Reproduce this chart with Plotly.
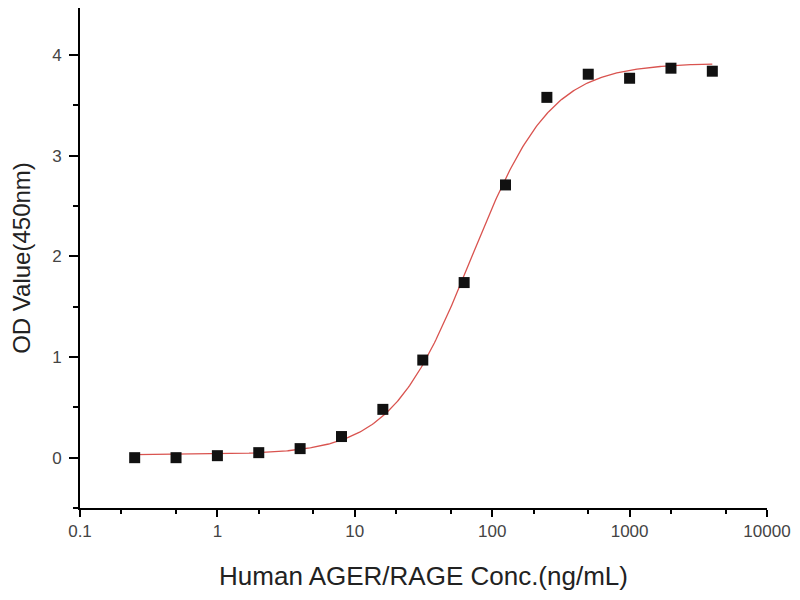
import numpy as np
import plotly.graph_objects as go

conc = [0.25, 0.5, 1, 2, 4, 8, 16, 31.25, 62.5, 125, 250, 500, 1000, 2000, 4000]
od = [0.0, 0.0, 0.02, 0.05, 0.09, 0.21, 0.48, 0.97, 1.74, 2.71, 3.58, 3.81, 3.77, 3.87, 3.84]
x_tick_vals = [0.1, 1, 10, 100, 1000, 10000]
x_tick_text = ["0.1", "1", "10", "100", "1000", "10000"]
y_tick_vals = [0, 1, 2, 3, 4]

# 4-parameter logistic fit parameters (estimated)
fit_bottom = 0.03
fit_top = 3.92
fit_ec50 = 70.0
fit_hill = 1.5

xf = np.logspace(np.log10(0.25), np.log10(4000), 400)
yf = fit_bottom + (fit_top - fit_bottom) * (xf / fit_ec50) ** fit_hill / (1 + (xf / fit_ec50) ** fit_hill)

fig = go.Figure()
fig.add_trace(go.Scatter(x=xf, y=yf, mode="lines", line=dict(color="#d9534f", width=1.3), showlegend=False))
fig.add_trace(go.Scatter(x=conc, y=od, mode="markers",
                         marker=dict(symbol="square", size=11, color="#111111"), showlegend=False))

fig.update_layout(
    width=800, height=600,
    margin=dict(l=72, r=41, t=0, b=100),
    plot_bgcolor="white", paper_bgcolor="white",
    font=dict(family="Liberation Sans, Arial, sans-serif", color="#333333"),
)
fig.update_xaxes(
    type="log", range=[-1, 4], automargin=False,
    tickvals=x_tick_vals, ticktext=x_tick_text,
    ticks="outside", ticklen=7, tickwidth=2, tickcolor="black",
    minor=dict(ticks="outside", ticklen=4, tickwidth=1.5, tickcolor="black", showgrid=False),
    showline=True, linecolor="black", linewidth=2, showgrid=False, zeroline=False,
    tickfont=dict(size=17, color="#444444"),
    title=dict(text="Human AGER/RAGE Conc.(ng/mL)", font=dict(size=26, color="#222222"), standoff=26),
)
fig.update_yaxes(
    range=[-0.5, 4.468], automargin=False,
    tickvals=y_tick_vals,
    ticks="outside", ticklen=9, tickwidth=2, tickcolor="black",
    minor=dict(ticks="outside", ticklen=5, tickwidth=1.5, tickcolor="black", dtick=0.5, showgrid=False),
    showline=True, linecolor="black", linewidth=2, showgrid=False, zeroline=False,
    tickfont=dict(size=17, color="#444444"), ticklabelstandoff=4,
    title=dict(text="OD Value(450nm)", font=dict(size=24, color="#222222"), standoff=16),
)
fig.write_html("out.html")
